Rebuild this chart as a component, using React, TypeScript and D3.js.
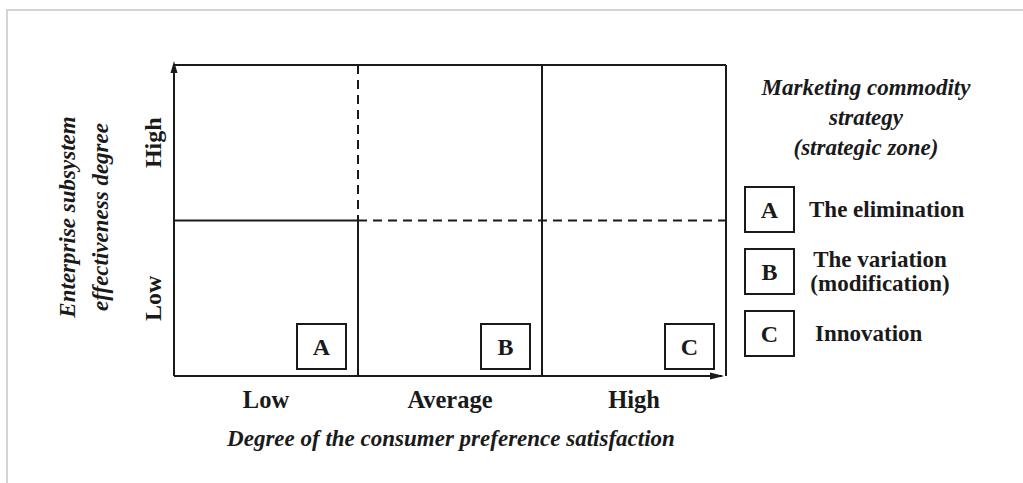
import React from "react";
import * as d3 from "d3";

const xCategories = ["Low", "Average", "High"];
const yCategories = ["High", "Low"];
const zoneLetters = ["A", "B", "C"];
const legendLetters = ["A", "B", "C"];
const legendLabels = [["The elimination"], ["The variation", "(modification)"], ["Innovation"]];
const legendTitle = ["Marketing commodity", "strategy", "(strategic zone)"];
const xTitle = "Degree of the consumer preference satisfaction";
const yTitle = ["Enterprise subsystem", "effectiveness degree"];

const W = 1023;
const H = 483;
const serif = "'Liberation Serif', 'Times New Roman', serif";
const ink = "#1a1a1a";

export default function App() {
  const x = d3.scaleBand<string>().domain(xCategories).range([174, 726]);
  const y = d3.scaleBand<string>().domain(yCategories).range([65, 376]);
  const left = x.range()[0];
  const right = x.range()[1];
  const top = y.range()[0];
  const bottom = y.range()[1];
  const midY = y("Low")!;
  const col1 = x("Average")!;
  const col2 = x("High")!;
  const bw = x.bandwidth();
  const dash = "9 6";
  const sw = 2;

  const legendX = 745;
  const legendBoxW = 49;
  const legendBoxH = 45;
  const legendY = d3.scalePoint<string>().domain(legendLetters).range([187, 311]);

  return (
    <svg
      width={W}
      height={H}
      style={{ position: "absolute", left: 0, top: 0, background: "#fff" }}
      fontFamily={serif}
    >
      <rect x={7} y={10} width={W + 20} height={H + 20} fill="none" stroke="#d4d4d4" strokeWidth={2} />

      {/* outer frame */}
      <line x1={left} x2={right} y1={top} y2={top} stroke={ink} strokeWidth={sw} />
      <line x1={right} x2={right} y1={top} y2={bottom} stroke={ink} strokeWidth={sw} />
      {/* y axis with arrow */}
      <line x1={left} x2={left} y1={bottom} y2={top - 1} stroke={ink} strokeWidth={sw} />
      <path d={`M${left - 3.5},${top + 8} L${left},${top - 4} L${left + 3.5},${top + 8} Z`} fill={ink} />
      {/* x axis with arrow */}
      <line x1={left} x2={right - 4} y1={bottom} y2={bottom} stroke={ink} strokeWidth={sw} />
      <path d={`M${right - 16},${bottom - 3.5} L${right - 2},${bottom} L${right - 16},${bottom + 3.5} Z`} fill={ink} />

      {/* dividers */}
      <line x1={col1} x2={col1} y1={top} y2={midY} stroke={ink} strokeWidth={sw} strokeDasharray={dash} />
      <line x1={col1} x2={col1} y1={midY} y2={bottom} stroke={ink} strokeWidth={sw} />
      <line x1={col2} x2={col2} y1={top} y2={bottom} stroke={ink} strokeWidth={sw} />
      <line x1={left} x2={col1} y1={midY} y2={midY} stroke={ink} strokeWidth={sw} />
      <line x1={col1} x2={right} y1={midY} y2={midY} stroke={ink} strokeWidth={sw} strokeDasharray={dash} />

      {/* zone boxes */}
      {xCategories.map((c, i) => {
        const bx = x(c)! + bw - 12 - 49;
        const by = bottom - 7 - 45;
        return (
          <g key={c}>
            <rect x={bx} y={by} width={49} height={45} fill="#fff" stroke={ink} strokeWidth={2} />
            <text x={bx + 24.5} y={by + 31} textAnchor="middle" fontWeight="bold" fontSize={24} fill={ink}>
              {zoneLetters[i]}
            </text>
          </g>
        );
      })}

      {/* x labels */}
      {xCategories.map((c) => (
        <text key={c} x={x(c)! + bw / 2} y={408} textAnchor="middle" fontWeight="bold" fontSize={24.5} fill={ink}>
          {c}
        </text>
      ))}
      <text x={451} y={446} textAnchor="middle" fontWeight="bold" fontStyle="italic" fontSize={23} fill={ink}>
        {xTitle}
      </text>

      {/* y labels */}
      {yCategories.map((c) => (
        <text
          key={c}
          transform={`translate(161,${y(c)! + y.bandwidth() / 2}) rotate(-90)`}
          textAnchor="middle"
          fontWeight="bold"
          fontSize={24}
          fill={ink}
        >
          {c}
        </text>
      ))}
      {yTitle.map((t, i) => (
        <text
          key={t}
          transform={`translate(${75 + i * 33},217) rotate(-90)`}
          textAnchor="middle"
          fontWeight="bold"
          fontStyle="italic"
          fontSize={23}
          fill={ink}
        >
          {t}
        </text>
      ))}

      {/* legend */}
      {legendTitle.map((t, i) => (
        <text key={t} x={866} y={95 + i * 30} textAnchor="middle" fontWeight="bold" fontStyle="italic" fontSize={23} fill={ink}>
          {t}
        </text>
      ))}
      {legendLetters.map((l, i) => {
        const by = legendY(l)!;
        const lines = legendLabels[i];
        return (
          <g key={l}>
            <rect x={legendX} y={by} width={legendBoxW} height={legendBoxH} fill="#fff" stroke={ink} strokeWidth={2} />
            <text x={legendX + legendBoxW / 2} y={by + 31} textAnchor="middle" fontWeight="bold" fontSize={24} fill={ink}>
              {l}
            </text>
            {lines.map((ln, j) => (
              <text
                key={ln}
                x={lines.length > 1 ? 880 : legendX + 64 + (i === 2 ? 6 : 0)}
                y={by + 30 + (j - (lines.length - 1) / 2) * 24}
                textAnchor={lines.length > 1 ? "middle" : "start"}
                fontWeight="bold"
                fontSize={23}
                fill={ink}
              >
                {ln}
              </text>
            ))}
          </g>
        );
      })}
    </svg>
  );
}
